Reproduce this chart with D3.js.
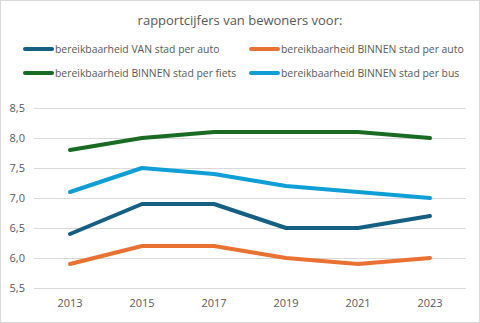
<!DOCTYPE html>
<html><head><meta charset="utf-8">
<script src="https://cdn.jsdelivr.net/npm/d3@7"></script>
<style>body{margin:0;background:#fff;}svg{display:block;font-family:"Open Sans",sans-serif;}</style>
</head><body>
<svg id="c" width="480" height="323"></svg>
<script>
const years = ["2013","2015","2017","2019","2021","2023"];
const seriesNames = ["bereikbaarheid VAN stad per auto","bereikbaarheid BINNEN stad per auto","bereikbaarheid BINNEN stad per fiets","bereikbaarheid BINNEN stad per bus"];
const vanAuto = [6.4,6.9,6.9,6.5,6.5,6.7];
const binnenAuto = [5.9,6.2,6.2,6.0,5.9,6.0];
const binnenFiets = [7.8,8.0,8.1,8.1,8.1,8.0];
const binnenBus = [7.1,7.5,7.4,7.2,7.1,7.0];
const yTicks = [5.5,6.0,6.5,7.0,7.5,8.0,8.5];
const colors = ["#156082","#E97132","#196B24","#0F9ED5"];
const title = "rapportcijfers van bewoners voor:";

const svg = d3.select("#c");
svg.append("rect").attr("x",0.5).attr("y",0.5).attr("width",479).attr("height",322).attr("fill","#fff").attr("stroke","#d9d9d9");

const x = d3.scaleBand().domain(years).range([34,466]);
const y = d3.scaleLinear().domain([5.5,8.5]).range([288,108]);

svg.append("text").attr("x",240).attr("y",25).attr("text-anchor","middle").attr("font-size",13).attr("fill","#595959").text(title);

const yAxis = svg.append("g").attr("transform","translate(34,0)")
  .call(d3.axisLeft(y).tickValues(yTicks).tickSize(-432).tickFormat(d=>d3.format(".1f")(d).replace(".",",")));
yAxis.select(".domain").remove();
yAxis.selectAll("line").attr("stroke","#d9d9d9");
yAxis.selectAll("text").attr("x",-9).attr("font-size",11).attr("fill","#595959").attr("font-family","Open Sans");

const xAxis = svg.append("g").attr("transform","translate(0,288)")
  .call(d3.axisBottom(x).tickSize(0));
xAxis.select(".domain").remove();
xAxis.selectAll("text").attr("dy",0).attr("y",19).attr("font-size",11).attr("fill","#595959").attr("font-family","Open Sans");

const data = [vanAuto,binnenAuto,binnenFiets,binnenBus];
const line = d3.line().x((d,i)=>x(years[i])+x.bandwidth()/2).y(d=>y(d));
data.forEach((s,k)=>{
  svg.append("path").attr("d",line(s)).attr("fill","none").attr("stroke",colors[k]).attr("stroke-width",4).attr("stroke-linecap","round").attr("stroke-linejoin","round");
});

const legPos = [[25,49],[251,49],[25,73],[251,73]];
seriesNames.forEach((n,k)=>{
  const g = svg.append("g").attr("transform",`translate(${legPos[k][0]},${legPos[k][1]})`);
  g.append("line").attr("x1",0).attr("x2",27).attr("y1",0).attr("y2",0).attr("stroke",colors[k]).attr("stroke-width",4).attr("stroke-linecap","round");
  g.append("text").attr("x",30).attr("y",4).attr("font-size",10.4).attr("fill","#595959").text(n);
});
</script>
</body></html>
